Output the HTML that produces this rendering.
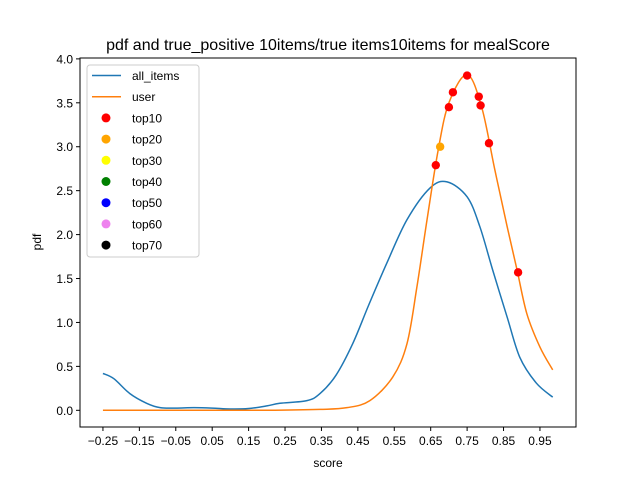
<!DOCTYPE html>
<html><head><meta charset="utf-8">
<style>body{margin:0;background:#fff}svg{display:block;font-family:"Liberation Sans","DejaVu Sans",sans-serif}</style>
</head><body>
<svg id="c" width="640" height="480" xmlns="http://www.w3.org/2000/svg"></svg>
<script>
const xTicks=[-0.25,-0.15,-0.05,0.05,0.15,0.25,0.35,0.45,0.55,0.65,0.75,0.85,0.95];
const xTickLabels=["\u22120.25","\u22120.15","\u22120.05","0.05","0.15","0.25","0.35","0.45","0.55","0.65","0.75","0.85","0.95"];
const yTicks=[0,0.5,1,1.5,2,2.5,3,3.5,4];
const yTickLabels=["0.0","0.5","1.0","1.5","2.0","2.5","3.0","3.5","4.0"];
const allX=[-0.25,-0.22,-0.176,-0.13,-0.093,-0.05,0.0,0.05,0.1,0.15,0.2,0.236,0.31,0.346,0.39,0.436,0.48,0.53,0.585,0.648,0.695,0.75,0.785,0.82,0.86,0.895,0.94,0.985];
const allY=[0.42,0.36,0.19,0.08,0.03,0.025,0.03,0.025,0.015,0.02,0.05,0.08,0.11,0.19,0.4,0.76,1.2,1.68,2.17,2.53,2.6,2.43,2.09,1.6,1.06,0.6,0.31,0.15];
const userX=[-0.25,0.0,0.2,0.346,0.42,0.483,0.546,0.585,0.612,0.64,0.67,0.7,0.75,0.79,0.826,0.86,0.887,0.914,0.95,0.985];
const userY=[0,0,0,0.01,0.03,0.11,0.38,0.76,1.4,2.17,2.95,3.5,3.82,3.45,2.74,2.09,1.6,1.1,0.72,0.46];
const top10X=[0.664,0.700,0.711,0.750,0.782,0.787,0.810,0.890];
const top10Y=[2.79,3.45,3.62,3.81,3.57,3.47,3.04,1.57];
const top20X=[0.676];
const top20Y=[3.00];

const L=80,R=576,T=58,B=427,xmin=-0.313,xmax=1.049,ymin=-0.19,ymax=4.01;
const sx=v=>L+(v-xmin)/(xmax-xmin)*(R-L);
const sy=v=>B-(v-ymin)/(ymax-ymin)*(B-T);
const svg=document.getElementById('c');
const NS="http://www.w3.org/2000/svg";
function mk(t,a,p){const e=document.createElementNS(NS,t);for(const k in a)e.setAttribute(k,a[k]);(p||svg).appendChild(e);return e;}
function path(xs,ys){const p=xs.map((x,i)=>[sx(x),sy(ys[i])]);let d=`M${p[0][0]},${p[0][1]}`;
for(let i=0;i<p.length-1;i++){const p0=p[i-1]||p[i],p1=p[i],p2=p[i+1],p3=p[i+2]||p2;
d+=` C${p1[0]+(p2[0]-p0[0])/6},${p1[1]+(p2[1]-p0[1])/6} ${p2[0]-(p3[0]-p1[0])/6},${p2[1]-(p3[1]-p1[1])/6} ${p2[0]},${p2[1]}`;}return d;}

let e=mk('text',{x:328,y:50,'text-anchor':'middle','font-size':16});e.textContent="pdf and true_positive 10items/true items10items for mealScore";



xTicks.forEach((v,i)=>{const x=sx(v);
const t=mk('line',{x1:x,x2:x,y1:B,y2:B+4,stroke:'#000'});


const l=mk('text',{x:x,y:B+18,'text-anchor':'middle','font-size':12});l.textContent=xTickLabels[i];

});
yTicks.forEach((v,i)=>{const y=sy(v);
const t=mk('line',{x1:L-4,x2:L,y1:y,y2:y,stroke:'#000'});


const l=mk('text',{x:L-7,y:y+4.5,'text-anchor':'end','font-size':12});l.textContent=yTickLabels[i];

});

e=mk('text',{x:328,y:467,'text-anchor':'middle','font-size':12});e.textContent="score";


e=mk('text',{x:41,y:242,'text-anchor':'middle','font-size':12,transform:'rotate(-90 41 242)'});e.textContent="pdf";



e=mk('path',{d:path(allX,allY),fill:'none',stroke:'#1f77b4','stroke-width':1.5});


e=mk('path',{d:path(userX,userY),fill:'none',stroke:'#ff7f0e','stroke-width':1.5});


top10X.forEach((v,i)=>{const c=mk('circle',{cx:sx(v),cy:sy(top10Y[i]),r:4.2,fill:'red'});

});
top20X.forEach((v,i)=>{const c=mk('circle',{cx:sx(v),cy:sy(top20Y[i]),r:4.2,fill:'orange'});

});

e=mk('rect',{x:L,y:T,width:R-L,height:B-T,fill:'none',stroke:'#000','stroke-width':1});



const lg=mk('g',{});


mk('rect',{x:87,y:65,width:112,height:192,rx:3,fill:'#fff','fill-opacity':0.8,stroke:'#ccc'},lg);
const legNames=["all_items","user","top10","top20","top30","top40","top50","top60","top70"];
const legColors=["#1f77b4","#ff7f0e","red","orange","yellow","green","blue","violet","black"];
legNames.forEach((n,i)=>{const y=75.5+i*21.2;
const g=mk('g',{},lg);


if(i<2)mk('line',{x1:92,x2:121,y1:y,y2:y,stroke:legColors[i],'stroke-width':1.5},g);
else mk('circle',{cx:106,cy:y,r:4.5,fill:legColors[i]},g);
const t=mk('text',{x:132,y:y+4.5,'font-size':12},g);t.textContent=n;});
</script>
</body></html>
